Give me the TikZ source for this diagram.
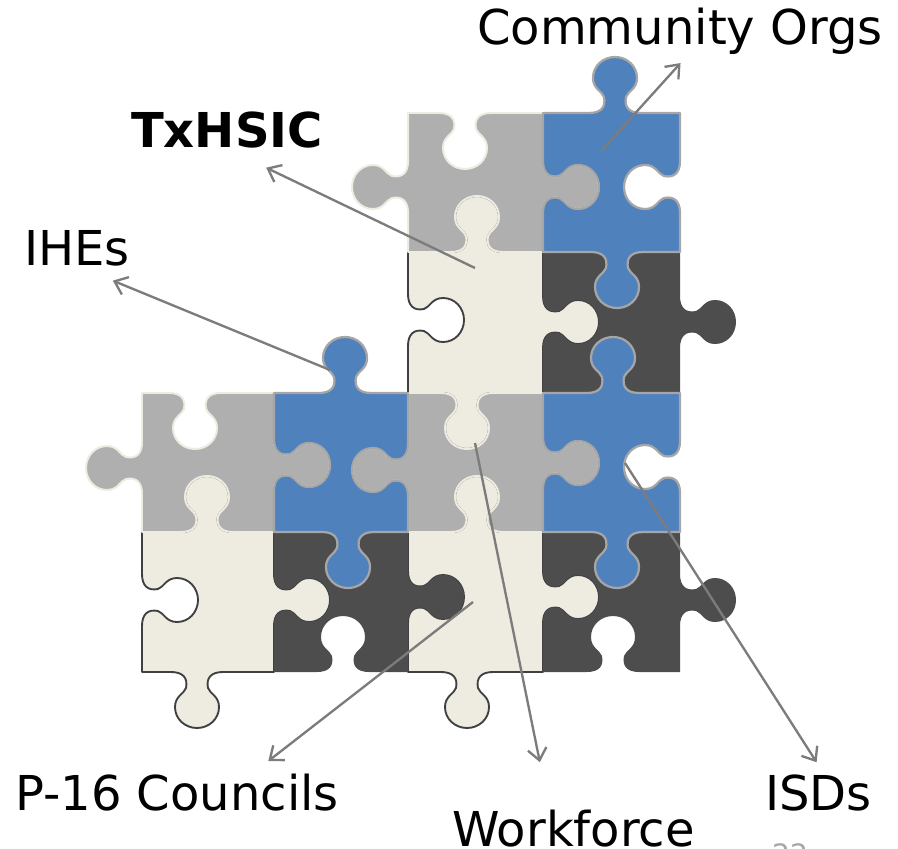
\documentclass[tikz,border=0pt]{standalone}
\usepackage{fontspec}
\setmainfont{DejaVu Sans}
\usepackage{tikz}
\usetikzlibrary{arrows.meta,positioning}
\definecolor{pcgray}{HTML}{AFAFAF}
\definecolor{pcblue}{HTML}{4F81BD}
\definecolor{pccream}{HTML}{EEECE1}
\definecolor{pcdark}{HTML}{4D4D4D}
\definecolor{pcline}{HTML}{404040}
\definecolor{pcrim}{HTML}{A6A6A6}
\definecolor{arrowgray}{HTML}{7C7C7C}
\tikzstyle{graypc} = [fill=pcgray, draw=pccream, line width=1.7pt, line join=round]
\tikzstyle{bluepc} = [fill=pcblue, draw=pcrim, line width=1.9pt, line join=round]
\tikzstyle{creampc} = [fill=pccream, draw=pcline, line width=1.6pt, line join=round]
\tikzstyle{darkpc} = [fill=pcdark]
\tikzstyle{lbl} = [inner sep=0pt, font=\fontsize{41}{49}\selectfont]
\tikzstyle{link} = [draw=arrowgray, line width=2pt, -{Straight Barb[length=10pt,width=16pt]}]
% knob on a horizontal / vertical edge: {line}{centre}{direction}{side}
\tikzset{
  hedge/.style n args={4}{insert path={
    -- ({#2-26*(#3)},#1)
    .. controls ({#2-14*(#3)},#1) and ({#2-9*(#3)},{#1+6*(#4)}) .. ({#2-11*(#3)},{#1+16*(#4)})
    .. controls ({#2-13*(#3)},{#1+22*(#4)}) and ({#2-22*(#3)},{#1+24*(#4)}) .. ({#2-22*(#3)},{#1+35*(#4)})
    .. controls ({#2-22*(#3)},{#1+47*(#4)}) and ({#2-12*(#3)},{#1+56*(#4)}) .. (#2,{#1+56*(#4)})
    .. controls ({#2+12*(#3)},{#1+56*(#4)}) and ({#2+22*(#3)},{#1+47*(#4)}) .. ({#2+22*(#3)},{#1+35*(#4)})
    .. controls ({#2+22*(#3)},{#1+24*(#4)}) and ({#2+13*(#3)},{#1+22*(#4)}) .. ({#2+11*(#3)},{#1+16*(#4)})
    .. controls ({#2+9*(#3)},{#1+6*(#4)}) and ({#2+14*(#3)},#1) .. ({#2+26*(#3)},#1)
  }},
  vedge/.style n args={4}{insert path={
    -- (#1,{#2-26*(#3)})
    .. controls (#1,{#2-14*(#3)}) and ({#1+6*(#4)},{#2-9*(#3)}) .. ({#1+16*(#4)},{#2-11*(#3)})
    .. controls ({#1+22*(#4)},{#2-13*(#3)}) and ({#1+24*(#4)},{#2-22*(#3)}) .. ({#1+35*(#4)},{#2-22*(#3)})
    .. controls ({#1+47*(#4)},{#2-22*(#3)}) and ({#1+56*(#4)},{#2-12*(#3)}) .. ({#1+56*(#4)},#2)
    .. controls ({#1+56*(#4)},{#2+12*(#3)}) and ({#1+47*(#4)},{#2+22*(#3)}) .. ({#1+35*(#4)},{#2+22*(#3)})
    .. controls ({#1+24*(#4)},{#2+22*(#3)}) and ({#1+22*(#4)},{#2+13*(#3)}) .. ({#1+16*(#4)},{#2+11*(#3)})
    .. controls ({#1+6*(#4)},{#2+9*(#3)}) and (#1,{#2+14*(#3)}) .. (#1,{#2+26*(#3)})
  }},
}

\begin{document}
\begin{tikzpicture}[x=0.03cm, y=-0.03cm]
  \useasboundingbox (0,0) rectangle (898,849);
  % cream pieces
  \filldraw[creampc] (408,252) [hedge={252}{477}{1}{-1}] -- (543,252) [vedge={543}{322}{1}{1}] -- (543,393) [hedge={393}{467}{-1}{1}] -- (408,393) [vedge={408}{320}{-1}{1}] -- cycle;
  \filldraw[creampc] (142,532) [hedge={532}{207}{1}{-1}] -- (274,532) [vedge={274}{600}{1}{1}] -- (274,672) [hedge={672}{197}{-1}{1}] -- (142,672) [vedge={142}{600}{-1}{1}] -- cycle;
  \filldraw[creampc] (408,532) [hedge={532}{477}{1}{-1}] -- (543,532) [vedge={543}{597}{1}{1}] -- (543,672) [hedge={672}{467}{-1}{1}] -- (408,672) [vedge={408}{597}{-1}{1}] -- cycle;
  % dark pieces
  \fill[darkpc] (543,252) [hedge={252}{617}{1}{1}] -- (680,252) [vedge={680}{322}{1}{1}] -- (680,393) [hedge={393}{613}{-1}{-1}] -- (543,393) [vedge={543}{322}{-1}{1}] -- cycle;
  \fill[darkpc] (274,532) [hedge={532}{348}{1}{1}] -- (408,532) [vedge={408}{597}{1}{1}] -- (408,672) [hedge={672}{343}{-1}{-1}] -- (274,672) [vedge={274}{600}{-1}{1}] -- cycle;
  \fill[darkpc] (543,532) [hedge={532}{617}{1}{1}] -- (680,532) [vedge={680}{600}{1}{1}] -- (680,672) [hedge={672}{613}{-1}{-1}] -- (543,672) [vedge={543}{597}{-1}{1}] -- cycle;
  % gray pieces
  \filldraw[graypc] (408,113) [hedge={113}{465}{1}{1}] -- (543,113) [vedge={543}{187}{1}{1}] -- (543,252) [hedge={252}{477}{-1}{-1}] -- (408,252) [vedge={408}{187}{-1}{-1}] -- cycle;
  \filldraw[graypc] (142,393) [hedge={393}{195}{1}{1}] -- (274,393) [vedge={274}{465}{1}{1}] -- (274,532) [hedge={532}{207}{-1}{-1}] -- (142,532) [vedge={142}{468}{-1}{-1}] -- cycle;
  \filldraw[graypc] (408,393) [hedge={393}{467}{1}{1}] -- (543,393) [vedge={543}{463}{1}{1}] -- (543,532) [hedge={532}{477}{-1}{-1}] -- (408,532) [vedge={408}{470}{-1}{-1}] -- cycle;
  % blue pieces
  \filldraw[bluepc] (543,113) [hedge={113}{615}{1}{-1}] -- (680,113) [vedge={680}{187}{1}{-1}] -- (680,252) [hedge={252}{617}{-1}{1}] -- (543,252) [vedge={543}{187}{-1}{1}] -- cycle;
  \filldraw[bluepc] (274,393) [hedge={393}{345}{1}{-1}] -- (408,393) [vedge={408}{470}{1}{-1}] -- (408,532) [hedge={532}{348}{-1}{1}] -- (274,532) [vedge={274}{465}{-1}{1}] -- cycle;
  \filldraw[bluepc] (543,393) [hedge={393}{613}{1}{-1}] -- (680,393) [vedge={680}{467}{1}{-1}] -- (680,532) [hedge={532}{617}{-1}{1}] -- (543,532) [vedge={543}{463}{-1}{1}] -- cycle;
  % labels
  \node[lbl, anchor=base west] (orgs) at (477,45) {Community Orgs};
  \node[lbl, anchor=base west, font=\fontsize{41}{49}\selectfont\bfseries] (tx) at (131,148) {TxHSIC};
  \node[lbl, anchor=base west] (ihe) at (24,265) {IHEs};
  \node[lbl, anchor=base west] (p16) at (15,810) {P-16 Councils};
  \node[lbl, anchor=base west] (wf) at (452,846) {Workforce};
  \node[lbl, anchor=base west] (isd) at (765,810) {ISDs};
  \node[inner sep=0pt, anchor=base west, text=pcrim, font=\fontsize{24}{28}\selectfont] (page) at (772,864) {22};
  % arrows
  \coordinate (orgs pt) at (602,150);
  \coordinate (tx pt) at (475,268);
  \coordinate (ihe pt) at (330,370);
  \coordinate (p16 pt) at (473,602);
  \coordinate (wf pt) at (475,443);
  \coordinate (isd pt) at (625,463);
  \draw[link, shorten >=9pt] (orgs pt) -- (orgs.-72);
  \draw[link, shorten >=37pt] (tx pt) -- (tx.south);
  \draw[link, shorten >=33pt] (ihe pt) -- (ihe.south);
  \draw[link, shorten >=17pt] (p16 pt) -- (p16.14);
  \draw[link, shorten >=41pt] (wf pt) -- (wf.142);
  \draw[link, shorten >=12pt] (isd pt) -- (isd.73);
\end{tikzpicture}
\end{document}
